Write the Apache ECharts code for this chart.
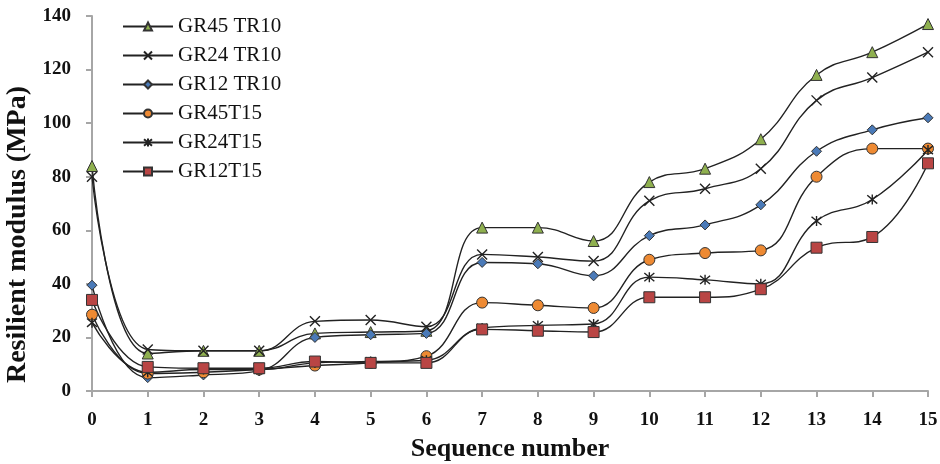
<!DOCTYPE html>
<html><head><meta charset="utf-8">
<script src="https://cdn.jsdelivr.net/npm/echarts@6/dist/echarts.min.js"></script>
<style>html,body{margin:0;padding:0;background:#fff}#c{width:940px;height:464px}</style>
</head><body><div id="c"></div>
<script>
const categories = ['0','1','2','3','4','5','6','7','8','9','10','11','12','13','14','15'];
const seriesNames = ['GR45 TR10','GR24 TR10','GR12 TR10','GR45T15','GR24T15','GR12T15'];
const gr45tr10 = [84, 14, 15, 15, 21.5, 22, 22.5, 61, 61, 56, 78, 83, 94, 118, 126.5, 137];
const gr24tr10 = [80, 15.5, 15, 15, 26, 26.5, 24, 51, 50, 48.5, 71, 75.5, 83, 108.5, 117, 126.5];
const gr12tr10 = [39.5, 5, 6, 7.5, 20, 21, 21.5, 48, 47.5, 43, 58, 62, 69.5, 89.5, 97.5, 102];
const gr45t15 = [28.5, 6.5, 7, 8, 9.5, 10.5, 13, 33, 32, 31, 49, 51.5, 52.5, 80, 90.5, 90.5];
const gr24t15 = [25.5, 7, 8, 8, 10.5, 11, 11.5, 23.5, 24.5, 25, 42.5, 41.5, 40, 63.5, 71.5, 90];
const gr12t15 = [34, 9, 8.5, 8.5, 11, 10.5, 10.5, 23, 22.5, 22, 35, 35, 38, 53.5, 57.5, 85];
const yTicks = [0, 20, 40, 60, 80, 100, 120, 140];

const FONT = '"Liberation Serif", "Times New Roman", serif';
const crossPath = 'path://M0,0L10,10M10,0L0,10';
const starPath = 'path://M0,0L10,10M10,0L0,10M5,-1L5,11';

function mk(name, data, symbol, size, color, stroke) {
  return {
    name, type: 'line', data, smooth: 0.45,
    symbol, symbolSize: size, showAllSymbol: true,
    lineStyle: { color: '#222', width: 1.4 },
    itemStyle: stroke ? { color: 'transparent', borderColor: '#222', borderWidth: 1.4 }
                      : { color, borderColor: '#333', borderWidth: 1 },
    emphasis: { disabled: true }, z: 2
  };
}
const chart = echarts.init(document.getElementById('c'), null, { renderer: 'canvas' });
chart.setOption({
  animation: false,
  backgroundColor: '#fff',
  grid: { left: 92, right: 12, top: 16, bottom: 73, containLabel: false, outerBoundsMode: 'none' },
  legend: {
    orient: 'vertical', left: 122, top: 16, padding: 0, itemWidth: 50, itemHeight: 10, itemGap: 8,
    textStyle: { fontFamily: FONT, fontSize: 21, color: '#111', lineHeight: 21 },
    data: seriesNames
  },
  xAxis: {
    type: 'category', data: categories, boundaryGap: false,
    name: 'Sequence number', nameLocation: 'middle', nameGap: 45,
    nameTextStyle: { fontFamily: FONT, fontSize: 26, fontWeight: 'bold', color: '#111' },
    axisLine: { lineStyle: { color: '#a6a6a6', width: 2 } },
    axisTick: { show: true, length: 6, alignWithLabel: true, lineStyle: { color: '#a6a6a6', width: 2 } },
    axisLabel: { fontFamily: FONT, fontSize: 19, fontWeight: 'bold', color: '#111', margin: 20, interval: 0 },
    splitLine: { show: false }
  },
  yAxis: {
    type: 'value', min: yTicks[0], max: yTicks[yTicks.length - 1], interval: 20,
    name: 'Resilient modulus (MPa)', nameLocation: 'middle', nameGap: 58,
    nameTextStyle: { fontFamily: FONT, fontSize: 28, fontWeight: 'bold', color: '#111', padding: [0, 62, 0, 0] },
    axisLine: { show: true, lineStyle: { color: '#a6a6a6', width: 2 } },
    axisTick: { show: true, length: 6, lineStyle: { color: '#a6a6a6', width: 2 } },
    axisLabel: { fontFamily: FONT, fontSize: 19, fontWeight: 'bold', color: '#111', margin: 21 },
    splitLine: { show: false }
  },
  series: [
    mk(seriesNames[0], gr45tr10, 'triangle', 11, '#8fb04f'),
    mk(seriesNames[1], gr24tr10, crossPath, 10, '#222', true),
    mk(seriesNames[2], gr12tr10, 'diamond', 10, '#4a7ab8'),
    mk(seriesNames[3], gr45t15, 'circle', 11, '#ee8a33'),
    mk(seriesNames[4], gr24t15, starPath, 10, '#222', true),
    mk(seriesNames[5], gr12t15, 'rect', 11, '#b94544')
  ]
});
</script></body></html>
